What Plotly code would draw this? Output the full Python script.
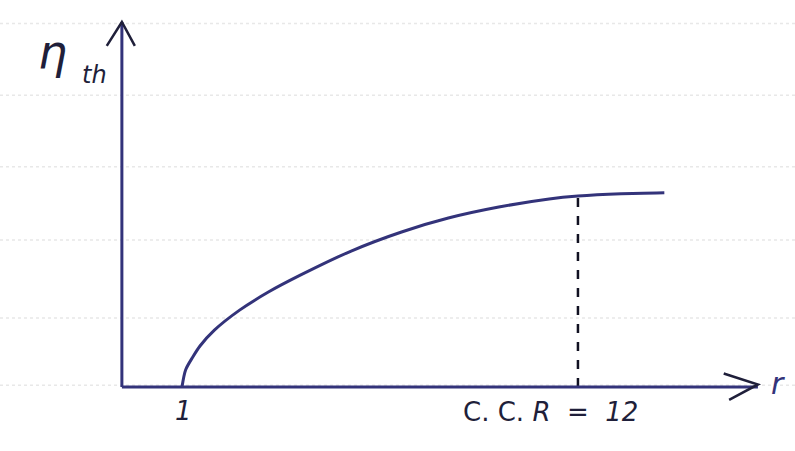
import plotly.graph_objects as go

# Thermal efficiency against compression ratio (sketch)
ratio = [1, 1.1, 1.3, 1.5, 1.9, 2.6, 3.4, 4.3, 5.7, 7.1, 8.4, 9.8, 11.2, 12, 13.2, 14.4]
eta_th = [0, 5.3, 9.3, 12.7, 17.6, 23.8, 29.4, 34.7, 42.1, 48.0, 52.3, 55.7, 58.2, 59.1, 59.8, 60.1]
ccr_value = 12
ccr_eta = 59.1

# axis extents in data units
x_origin, x_end = -0.67, 17.0
y_origin, y_end = 0, 113

ink = "#33337a"
pen = "#1f1f3a"

fig = go.Figure()

# ruled notebook lines in the background
for yp in [0.948, 0.789, 0.630, 0.468, 0.295, 0.146]:
    fig.add_shape(type="line", xref="paper", yref="paper", x0=0.0, x1=1.0, y0=yp, y1=yp,
                  line=dict(color="#e8e8e8", width=1.5, dash="dot"), layer="below")

# axes
fig.add_shape(type="line", x0=x_origin, x1=x_origin, y0=y_origin, y1=y_end,
              line=dict(color=ink, width=3))
fig.add_shape(type="line", x0=x_origin, x1=x_end, y0=y_origin, y1=y_origin,
              line=dict(color=ink, width=3))
# arrow heads
fig.add_shape(type="path",
              path=f"M {x_origin-0.42},{y_end-7.4} L {x_origin},{y_end} L {x_origin+0.36},{y_end-7.4}",
              line=dict(color=pen, width=2.5))
fig.add_shape(type="path",
              path=f"M {x_end-0.95},{y_origin+4.2} L {x_end},{y_origin+0.8} L {x_end-0.8},{y_origin-4.0}",
              line=dict(color=pen, width=2.5))

# dashed marker at the chosen compression ratio
fig.add_trace(go.Scatter(x=[ccr_value, ccr_value], y=[0, ccr_eta], mode="lines",
                         line=dict(color="#111122", width=2.5, dash="dash"),
                         hoverinfo="skip", showlegend=False))

# efficiency curve
fig.add_trace(go.Scatter(x=ratio, y=eta_th, mode="lines",
                         line=dict(color=ink, width=3, shape="spline", smoothing=0.8),
                         showlegend=False))

font_hand = "DejaVu Sans"
fig.add_annotation(x=0.045, y=0.95, xref="paper", yref="paper", text="<i>η</i>",
                   showarrow=False, font=dict(family=font_hand, size=46, color=pen))
fig.add_annotation(x=0.1, y=0.87, xref="paper", yref="paper", text="<i>th</i>",
                   showarrow=False, font=dict(family=font_hand, size=24, color=pen))
fig.add_annotation(x=x_end + 0.55, y=y_origin + 1, text="<i>r</i>", showarrow=False,
                   font=dict(family=font_hand, size=30, color=ink))
fig.add_annotation(x=1.05, y=-7.5, text="<i>1</i>", showarrow=False,
                   font=dict(family=font_hand, size=26, color=pen))
fig.add_annotation(x=ccr_value - 0.75, y=-7.8, text="C. C. <i>R</i>  =  <i>12</i>", showarrow=False,
                   font=dict(family=font_hand, size=26, color=pen))

fig.update_layout(
    width=795, height=451,
    margin=dict(l=0, r=0, t=0, b=0),
    paper_bgcolor="white", plot_bgcolor="white",
    xaxis=dict(range=[-4.056, 18.03], visible=False, fixedrange=True),
    yaxis=dict(range=[-19.8, 119.8], visible=False, fixedrange=True),
)

fig.write_html("out.html")
